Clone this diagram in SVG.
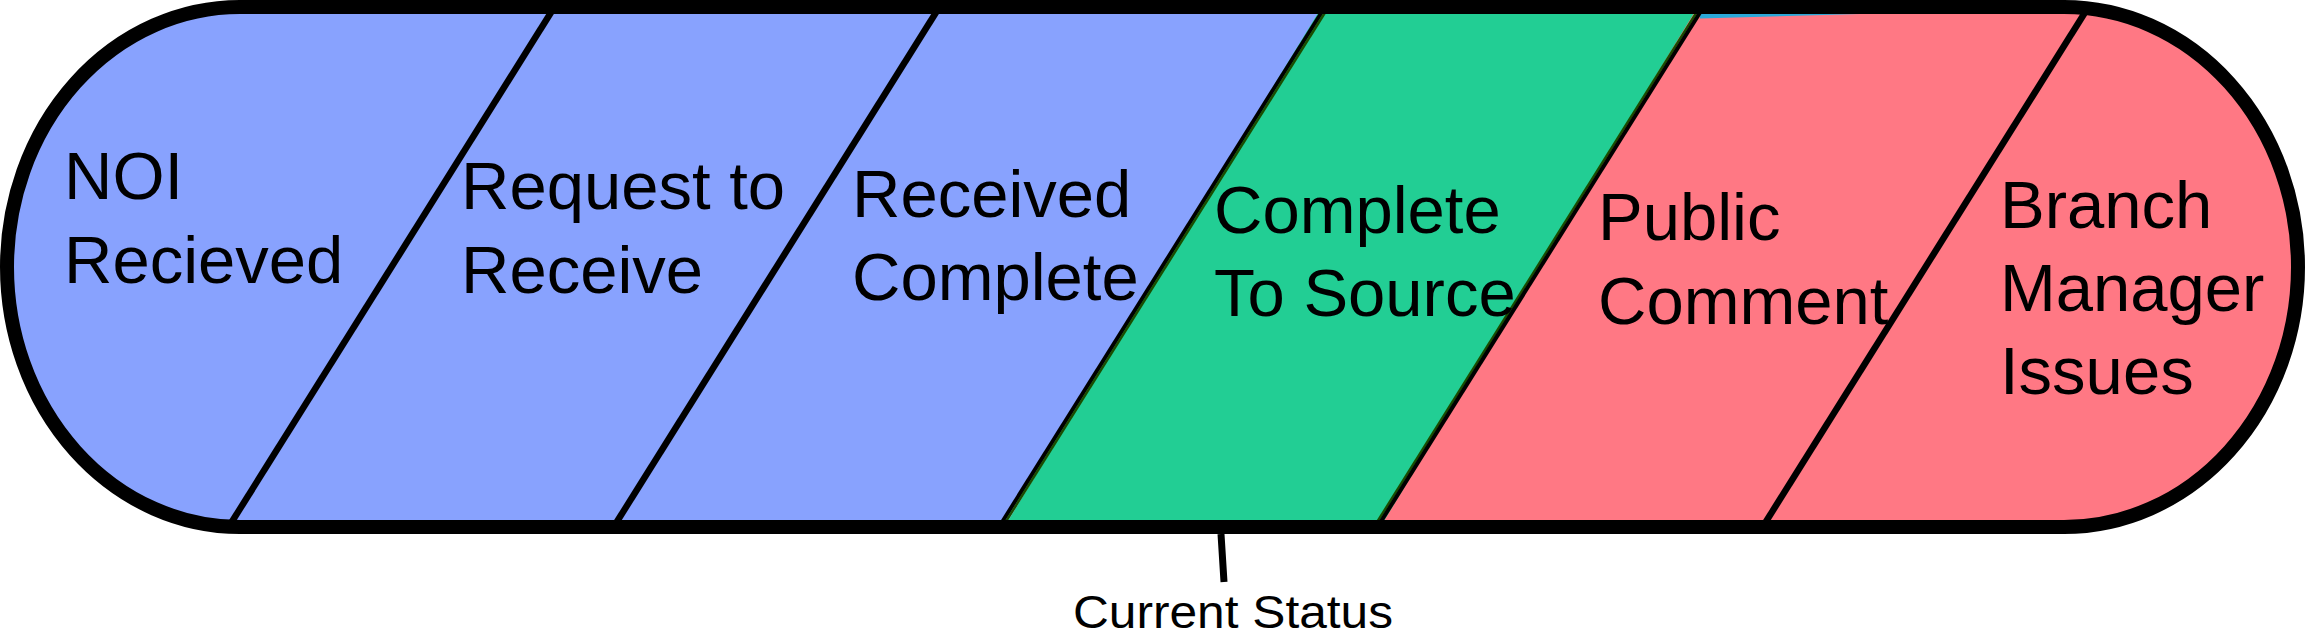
<svg xmlns="http://www.w3.org/2000/svg" width="2307" height="638" viewBox="0 0 2307 638">
  <defs>
    <style>
      .lbl { font-family: "Liberation Sans", Arial, sans-serif; font-size: 67px; fill: #000; }
      .small { font-family: "Liberation Sans", Arial, sans-serif; font-size: 46px; fill: #000; }
      .div { stroke: #000; stroke-width: 6.5; fill: none; }
      .blue { fill: #88A2FE; }
      .green { fill: #22CE94; }
      .red { fill: #FF7884; }
    </style>
    <clipPath id="pill">
      <path d="M240,7 H2064 A234,260 0 0 1 2064,527 H240 A233,260 0 0 1 240,7 Z"/>
    </clipPath>
  </defs>

  <g clip-path="url(#pill)">
    <g id="blue-region"><polygon class="blue" points="0,0 1327,0 1000,534 0,534"/></g>
    <g id="green-region"><polygon class="green" points="1326,0 1703,0 1377,534 1000,534"/></g>
    <g id="red-region"><polygon class="red" points="1702,0 2307,0 2307,534 1376,534"/></g>
    <polygon points="1700,14 1860,14 1700,18.5" fill="#2aa8d8"/>
  </g>

  <g id="dividers">
    <line class="div" x1="554.4" y1="7" x2="228.6" y2="527"/>
    <line class="div" x1="939.4" y1="7" x2="613.6" y2="527"/>
    <line x1="1325" y1="7" x2="999" y2="527" stroke="#000" stroke-width="4"/>
    <line x1="1328.5" y1="7" x2="1002.5" y2="527" stroke="#1A4D00" stroke-width="2.5"/>
    <line x1="1700" y1="7" x2="1374" y2="527" stroke="#1A4D00" stroke-width="2.5"/>
    <line x1="1703.5" y1="7" x2="1377.5" y2="527" stroke="#000" stroke-width="4"/>
    <line class="div" x1="2088.4" y1="7" x2="1762.6" y2="527"/>
  </g>

  <path id="outline" d="M240,7 H2064 A234,260 0 0 1 2064,527 H240 A233,260 0 0 1 240,7 Z" fill="none" stroke="#000" stroke-width="14"/>

  <g id="noi-recieved">
    <text class="lbl" x="64" y="199">NOI</text>
    <text class="lbl" x="64" y="283">Recieved</text>
  </g>
  <g id="request-to-receive">
    <text class="lbl" x="461" y="209">Request to</text>
    <text class="lbl" x="461" y="293">Receive</text>
  </g>
  <g id="received-complete">
    <text class="lbl" x="852" y="217">Received</text>
    <text class="lbl" x="852" y="300">Complete</text>
  </g>
  <g id="complete-to-source">
    <text class="lbl" x="1214" y="233">Complete</text>
    <text class="lbl" x="1214" y="316">To Source</text>
  </g>
  <g id="public-comment">
    <text class="lbl" x="1598" y="240">Public</text>
    <text class="lbl" x="1598" y="324">Comment</text>
  </g>
  <g id="branch-manager-issues">
    <text class="lbl" x="2000" y="228">Branch</text>
    <text class="lbl" x="2000" y="311">Manager</text>
    <text class="lbl" x="2000" y="394">Issues</text>
  </g>

  <g id="connectors">
    <line x1="1221" y1="534" x2="1224" y2="582" stroke="#000" stroke-width="7"/>
  </g>
  <g id="current-status">
    <text class="small" x="1073" y="628" textLength="320" lengthAdjust="spacingAndGlyphs">Current Status</text>
  </g>
</svg>
